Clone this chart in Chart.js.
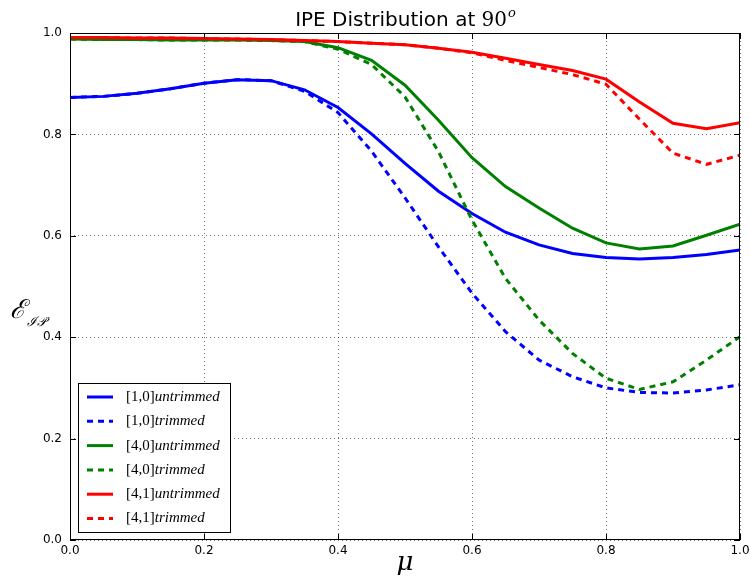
<!DOCTYPE html>
<html><head><meta charset="utf-8">
<script src="https://cdn.jsdelivr.net/npm/chart.js@4/dist/chart.umd.min.js"></script>
<style>html,body{margin:0;padding:0;background:#fff}canvas{display:block}</style>
</head><body>
<canvas id="c" width="750" height="579"></canvas>
<script>
const mu = [0,0.05,0.1,0.15,0.2,0.25,0.3,0.35,0.4,0.45,0.5,0.55,0.6,0.65,0.7,0.75,0.8,0.85,0.9,0.95,1.0];
const blueUntrimmed = [0.873,0.875,0.881,0.890,0.901,0.908,0.906,0.888,0.853,0.801,0.743,0.688,0.644,0.607,0.582,0.565,0.557,0.554,0.557,0.563,0.572];
const blueTrimmed   = [0.873,0.875,0.881,0.890,0.901,0.908,0.906,0.885,0.843,0.767,0.675,0.578,0.487,0.411,0.355,0.322,0.300,0.291,0.290,0.296,0.306];
const greenUntrimmed= [0.988,0.987,0.987,0.986,0.986,0.986,0.985,0.983,0.971,0.946,0.897,0.828,0.754,0.697,0.655,0.615,0.586,0.574,0.580,0.601,0.623];
const greenTrimmed  = [0.988,0.987,0.987,0.986,0.986,0.986,0.985,0.983,0.968,0.938,0.874,0.766,0.631,0.516,0.434,0.368,0.319,0.297,0.312,0.355,0.401];
const redUntrimmed  = [0.991,0.991,0.990,0.990,0.989,0.988,0.987,0.985,0.983,0.980,0.977,0.970,0.962,0.950,0.938,0.926,0.909,0.864,0.822,0.811,0.823];
const redTrimmed    = [0.991,0.991,0.990,0.990,0.989,0.988,0.987,0.985,0.983,0.980,0.977,0.970,0.961,0.946,0.932,0.918,0.899,0.830,0.763,0.741,0.759];
const seriesPrefix = ['[1,0]','[1,0]','[4,0]','[4,0]','[4,1]','[4,1]'];
const seriesSuffix = ['untrimmed','trimmed','untrimmed','trimmed','untrimmed','trimmed'];
const seriesColors = ['#0000ff','#0000ff','#008000','#008000','#ff0000','#ff0000'];
const seriesDashed = [false,true,false,true,false,true];
const xTicks = [0.0,0.2,0.4,0.6,0.8,1.0];
const yTicks = [0.0,0.2,0.4,0.6,0.8,1.0];
const titleText = ['IPE Distribution at ','90','o'];

const allSeries = [blueUntrimmed,blueTrimmed,greenUntrimmed,greenTrimmed,redUntrimmed,redTrimmed];
const datasets = allSeries.map((vals,i)=>({
  label: seriesPrefix[i]+seriesSuffix[i],
  data: vals.map((v,j)=>({x:mu[j],y:v})),
  borderColor: seriesColors[i],
  borderWidth: 3,
  borderDash: seriesDashed[i]?[6,5]:[],
  pointRadius: 0,
  tension: 0,
  fill: false,
  order: 6-i
}));

const deco = {
  id:'deco',
  afterDraw(chart){
    const ctx = chart.ctx, a = chart.chartArea;
    const xs = chart.scales.x, ys = chart.scales.y;
    ctx.save();
    // frame
    ctx.strokeStyle='#000'; ctx.lineWidth=1; ctx.setLineDash([]);
    ctx.strokeRect(Math.round(a.left)+0.5, Math.round(a.top)+0.5, Math.round(a.right-a.left)-1, Math.round(a.bottom-a.top)-1);
    // inward ticks
    ctx.beginPath();
    xTicks.forEach(v=>{const px=Math.round(xs.getPixelForValue(v))+0.5;
      ctx.moveTo(px,a.bottom); ctx.lineTo(px,a.bottom-6);
      ctx.moveTo(px,a.top); ctx.lineTo(px,a.top+6);});
    yTicks.forEach(v=>{const py=Math.round(ys.getPixelForValue(v))+0.5;
      ctx.moveTo(a.left,py); ctx.lineTo(a.left+6,py);
      ctx.moveTo(a.right,py); ctx.lineTo(a.right-6,py);});
    ctx.stroke();
    // title
    ctx.fillStyle='#000'; ctx.textBaseline='alphabetic';
    const f1='20px "DejaVu Sans"', f2='20px "DejaVu Serif"', f3='italic 13px "DejaVu Serif"';
    ctx.font=f1; const w1=ctx.measureText(titleText[0]).width;
    ctx.font=f2; const w2=ctx.measureText(titleText[1]).width;
    ctx.font=f3; const w3=ctx.measureText(titleText[2]).width;
    let tx=(a.left+a.right)/2-(w1+w2+w3)/2; const ty=26;
    ctx.textAlign='left';
    ctx.font=f1; ctx.fillText(titleText[0],tx,ty); tx+=w1;
    ctx.font=f2; ctx.fillText(titleText[1],tx,ty); tx+=w2;
    ctx.font=f3; ctx.fillText(titleText[2],tx+1,ty-9);
    // x axis title
    ctx.font='italic 26px "DejaVu Serif"'; ctx.textAlign='center';
    ctx.fillText('\u03BC',(a.left+a.right)/2,570);
    // y axis title
    ctx.textAlign='left';
    ctx.font='italic 26px "DejaVu Serif"';
    ctx.fillText('\u2130',10,318);
    ctx.font='italic 13px "DejaVu Serif"';
    ctx.fillText('\u2110\u{1D4AB}',27,326);
    // legend
    const lx=78, ly=383, lw=152, lh=149;
    ctx.fillStyle='#fff'; ctx.fillRect(lx,ly,lw,lh);
    ctx.strokeStyle='#000'; ctx.lineWidth=1; ctx.strokeRect(lx+0.5,ly+0.5,lw,lh);
    chart.data.datasets.forEach((ds,i)=>{
      const cy=ly+14+i*24.3;
      ctx.strokeStyle=ds.borderColor; ctx.lineWidth=3;
      ctx.setLineDash(ds.borderDash.length?[6,5]:[]);
      ctx.beginPath(); ctx.moveTo(87,cy); ctx.lineTo(113,cy); ctx.stroke();
      ctx.setLineDash([]);
      ctx.fillStyle='#000'; ctx.textBaseline='middle';
      ctx.font='15px "Liberation Serif"'; ctx.fillText(seriesPrefix[i],126,cy);
      const pw=ctx.measureText(seriesPrefix[i]).width;
      ctx.font='italic 15px "Liberation Serif"'; ctx.fillText(seriesSuffix[i],126+pw,cy);
    });
    ctx.restore();
  }
};

new Chart(document.getElementById('c'),{
  type:'line',
  data:{datasets},
  options:{
    responsive:false, animation:false,
    layout:{padding:{top:33,right:10,left:0,bottom:0}},
    plugins:{legend:{display:false},title:{display:false},tooltip:{enabled:false}},
    scales:{
      x:{type:'linear',min:0,max:1,
        afterFit:s=>{s.height=39; s.paddingLeft=0; s.paddingRight=0;},
        afterBuildTicks:s=>{s.ticks=xTicks.map(v=>({value:v}));},
        border:{display:false,dash:[1,3]},
        grid:{color:'rgba(0,0,0,0.55)',drawTicks:false,lineWidth:1},
        ticks:{padding:4,color:'#000',font:{family:'DejaVu Sans',size:12},callback:v=>Number(v).toFixed(1),maxRotation:0}},
      y:{type:'linear',min:0,max:1,
        afterFit:s=>{s.width=70; s.paddingTop=0; s.paddingBottom=0;},
        afterBuildTicks:s=>{s.ticks=yTicks.map(v=>({value:v}));},
        border:{display:false,dash:[1,3]},
        grid:{color:'rgba(0,0,0,0.55)',drawTicks:false,lineWidth:1},
        ticks:{padding:8,color:'#000',font:{family:'DejaVu Sans',size:12},callback:v=>Number(v).toFixed(1)}}
    }
  },
  plugins:[deco]
});
</script>
</body></html>
